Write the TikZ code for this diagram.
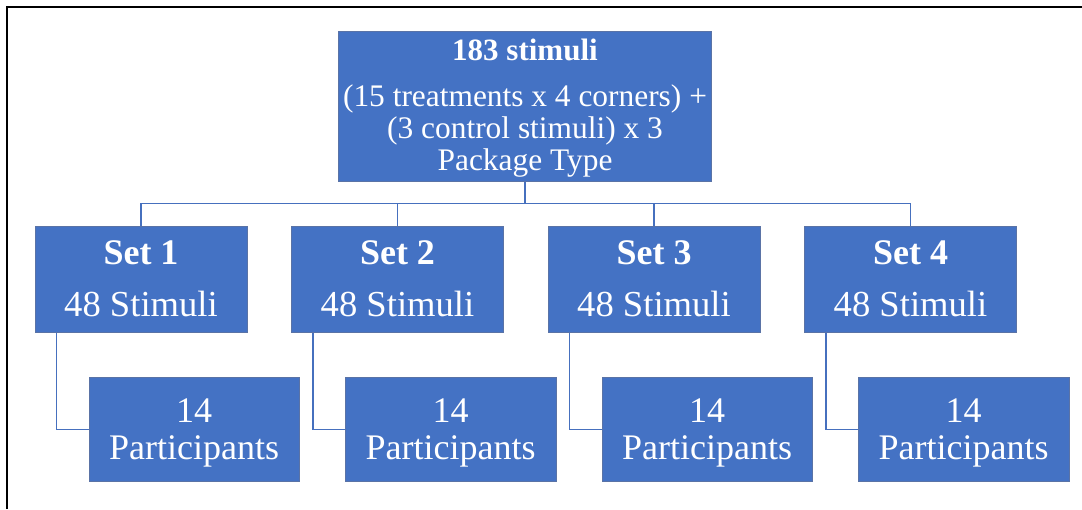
\documentclass[tikz,border=0pt]{standalone}
\usepackage{fontspec}
\setmainfont{Liberation Serif}
\definecolor{boxblue}{HTML}{4472C4}
\definecolor{boxedge}{HTML}{5A73A6}
\definecolor{linkblue}{HTML}{4670BE}
\begin{document}
\begin{tikzpicture}[x=1pt,y=-1pt,
  box/.style={rectangle, fill=boxblue, draw=boxedge, line width=0.6pt, inner sep=0pt},
  topbox/.style={box, minimum width=373pt, minimum height=150pt},
  setbox/.style={box, minimum width=212pt, minimum height=106.3pt},
  partbox/.style={box, minimum width=210.3pt, minimum height=104pt},
  txt/.style={anchor=base, text=white, inner sep=0pt},
  topfont/.style={font=\fontsize{31.4}{32}\selectfont},
  bigfont/.style={font=\fontsize{36}{37}\selectfont},
  conn/.style={draw=linkblue, line width=1.4pt}]
\useasboundingbox (0,0) rectangle (1082,509);
% frame (partial)
\draw[line width=2pt, black] (7.3,509) -- (7.3,6.7) -- (1082,6.7);

% top box
\node[topbox] (top) at (525,106.7) {};
\node[txt, font=\fontsize{31}{32}\selectfont\bfseries] (t1) at (525,60.7) {183 stimuli};
\node[txt, topfont] (t2) at (525,106) {(15 treatments x 4 corners) +};
\node[txt, topfont] (t3) at (525,138.3) {(3 control stimuli) x 3};
\node[txt, topfont] (t4) at (525,170) {Package Type};

% sets
\foreach \i/\cx in {1/141,2/397.5,3/654,4/910.5}{
  \node[setbox] (set\i) at (\cx,279.2) {};
  \node[txt, font=\fontsize{36}{37}\selectfont\bfseries] (s\i a) at (\cx,264) {Set \i};
  \node[txt, font=\fontsize{36.6}{37}\selectfont] (s\i b) at (\cx,316.7) {48 Stimuli};
}
% participants
\foreach \i/\cx in {1/194.2,2/450.7,3/707.2,4/963.7}{
  \node[partbox] (p\i) at (\cx,429.7) {};
  \node[txt, bigfont] (p\i a) at (\cx,422.7) {14};
  \node[txt, bigfont] (p\i b) at (\cx,459) {Participants};
}

% connectors
\coordinate (bus) at (0,203.3);
\foreach \i in {1,2,3,4}{
  \draw[conn] (top.south) -- (top.south |- bus) -| (set\i.north);
  \draw[conn] ([xshift=21.7pt]set\i.south west) |- (p\i.west);
}
\end{tikzpicture}
\end{document}
